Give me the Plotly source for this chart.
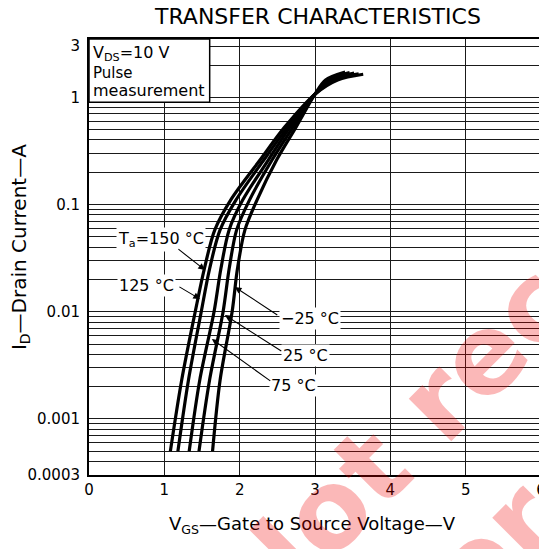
import math
import plotly.graph_objects as go

# ---------------- data ----------------
temps = ["150 °C", "125 °C", "75 °C", "25 °C", "−25 °C"]

vgs_150 = [1.08, 1.23, 1.41, 1.53, 1.67, 1.88, 2.27, 2.60, 3.00, 3.30, 3.64]
id_150 = [0.0005, 0.0023, 0.01, 0.025, 0.058, 0.11, 0.26, 0.53, 1.07, 1.45, 1.64]

vgs_125 = [1.18, 1.32, 1.49, 1.60, 1.74, 1.95, 2.32, 2.64, 3.00, 3.26, 3.58]
id_125 = [0.0005, 0.0023, 0.01, 0.025, 0.058, 0.11, 0.26, 0.53, 1.07, 1.45, 1.66]

vgs_75 = [1.33, 1.47, 1.66, 1.75, 1.86, 2.04, 2.38, 2.67, 3.00, 3.22, 3.52]
id_75 = [0.0005, 0.0023, 0.01, 0.025, 0.058, 0.11, 0.26, 0.53, 1.07, 1.45, 1.68]

vgs_25 = [1.46, 1.60, 1.78, 1.86, 1.96, 2.13, 2.43, 2.71, 3.00, 3.18, 3.46]
id_25 = [0.0005, 0.0023, 0.01, 0.025, 0.058, 0.11, 0.26, 0.53, 1.07, 1.45, 1.70]

vgs_m25 = [1.64, 1.74, 1.90, 1.97, 2.07, 2.23, 2.49, 2.75, 3.00, 3.14, 3.40]
id_m25 = [0.0005, 0.0023, 0.01, 0.025, 0.058, 0.11, 0.26, 0.53, 1.07, 1.45, 1.72]

x_ticks = [0, 1, 2, 3, 4, 5, 6]
y_ticks = [0.0003, 0.001, 0.01, 0.1, 1, 3]
y_ticktext = ["0.0003", "0.001", "0.01", "0.1", "1", "3"]
y_top = 3.5

# ---------------- figure ----------------
FONT = "DejaVu Sans"
fig = go.Figure()
series = [(vgs_150, id_150), (vgs_125, id_125), (vgs_75, id_75), (vgs_25, id_25), (vgs_m25, id_m25)]
for (vx, vy), name in zip(series, temps):
    fig.add_trace(go.Scatter(x=vx, y=vy, mode="lines", name=name,
                             line=dict(color="black", width=3.2, shape="spline", smoothing=0.9),
                             showlegend=False, hoverinfo="skip"))

minor_vals = [m * 10 ** e for e in range(-4, 1) for m in range(2, 10)
              if 0.0003 < m * 10 ** e < y_top]

grid = "#1a1a1a"
# the page body has an 8px margin, so the figure is shrunk by 8px and margins compensated
fig.update_layout(
    width=539, height=541,
    margin=dict(l=81, r=6, t=31, b=74),
    paper_bgcolor="white", plot_bgcolor="white",
    font=dict(family=FONT, color="black", size=15),
    xaxis=dict(range=[0, 6], tickmode="array", tickvals=x_ticks, automargin=False,
               showgrid=True, gridcolor=grid, gridwidth=1, zeroline=False,
               showline=True, mirror=True, linecolor="black", linewidth=2,
               ticks="", tickfont=dict(family=FONT, size=15, color="black")),
    yaxis=dict(type="log", range=[math.log10(0.0003), math.log10(y_top)], automargin=False,
               tickmode="array", tickvals=y_ticks, ticktext=y_ticktext, ticklabelstandoff=4,
               showgrid=True, gridcolor=grid, gridwidth=1, zeroline=False,
               showline=True, mirror=True, linecolor="black", linewidth=2,
               ticks="", tickfont=dict(family=FONT, size=15, color="black"),
               minor=dict(tickvals=minor_vals, showgrid=True, gridcolor=grid, gridwidth=1, ticks="")),
)

# condition box (top-left)
fig.add_shape(type="rect", xref="paper", yref="paper", x0=0, x1=0.267, y0=0.855, y1=1,
              line=dict(color="black", width=1.5), fillcolor="white", layer="above")

def px(xp):
    return (xp - 89) / 452.5

def py(yp):
    return (475 - yp) / 436

def txt(x, y, s, size=16, xanchor="center", angle=0):
    fig.add_annotation(xref="paper", yref="paper", x=x, y=y, text=s, showarrow=False,
                       xanchor=xanchor, yanchor="middle", textangle=angle,
                       font=dict(family=FONT, size=size, color="black"))

txt(px(91), py(53), "V<sub>DS</sub>=10 V", 16, "left")
txt(px(91), py(73), "Pulse", 15, "left")
txt(px(91), py(91), "measurement", 16, "left")

# title and axis titles
txt(px(318), py(16), "TRANSFER CHARACTERISTICS", 22)
txt(px(20), py(247), "I<sub>D</sub>—Drain Current—A", 20, angle=-90)
txt(px(313), py(525), "V<sub>GS</sub>—Gate to Source Voltage—V", 18)

# temperature labels (white background hides grid)
def lab(xp, yp, s):
    fig.add_annotation(xref="paper", yref="paper", x=px(xp), y=py(yp), text=s, showarrow=False,
                       xanchor="center", yanchor="middle", bgcolor="white",
                       font=dict(family=FONT, size=16, color="black"))

lab(161, 239, "T<sub>a</sub>=150 °C")
lab(147, 285, "125 °C")
lab(310, 318, "−25 °C")
lab(306, 355, "25 °C")
lab(294, 385, "75 °C")

# arrows (tail -> tip), pixel positions converted to axis coords
def arrow(tx, ty, hx, hy):
    vx = lambda p: (p - 89) / 75.417
    vy = lambda p: math.log10(y_top) - (p - 39) / 436 * (math.log10(y_top) - math.log10(0.0003))
    fig.add_annotation(xref="x", yref="y", axref="x", ayref="y",
                       x=vx(hx), y=vy(hy), ax=vx(tx), ay=vy(ty), text="",
                       showarrow=True, arrowhead=2, arrowsize=1.2, arrowwidth=1.1, arrowcolor="black")

arrow(177, 248, 205, 270)
arrow(178, 286, 200, 299)
arrow(279, 316, 235, 287)
arrow(283, 352, 225, 315)
arrow(272, 382, 212, 339)

# watermark (translucent so the black drawing shows through, as in the reference)
fig.add_annotation(xref="paper", yref="paper", x=px(690), y=py(250),
                   text="<b>Not recommended<br>for new design</b>", showarrow=False,
                   textangle=-45, xanchor="center", yanchor="middle",
                   font=dict(family=FONT, size=110, color="rgba(240,0,0,0.28)"))

fig.write_html("out.html")
